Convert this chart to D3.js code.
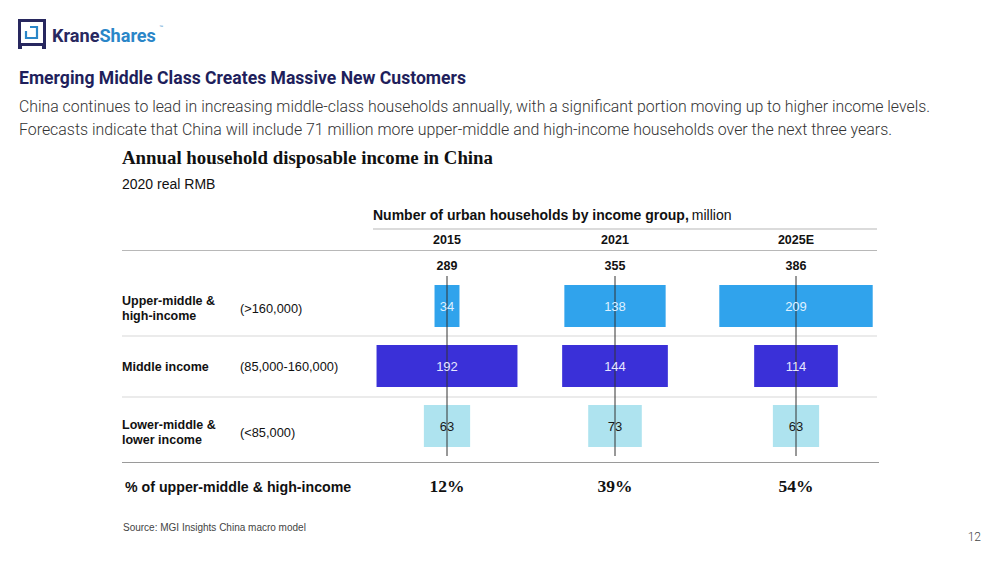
<!DOCTYPE html>
<html><head><meta charset="utf-8">
<script src="https://cdn.jsdelivr.net/npm/d3@7"></script>
<style>body{margin:0;background:#fff}svg{display:block}</style>
</head><body>
<script>
const years = ["2015", "2021", "2025E"];
const totals = [289, 355, 386];
const groups = ["upper", "middle", "lower"];
const groupLabels = [["Upper-middle &", "high-income"], ["Middle income"], ["Lower-middle &", "lower income"]];
const groupRanges = ["(>160,000)", "(85,000-160,000)", "(<85,000)"];
const upperValues = [34, 138, 209];
const middleValues = [192, 144, 114];
const lowerValues = [63, 73, 63];
const shareLabels = ["12%", "39%", "54%"];

const W = 1000, H = 563;
const svg = d3.select("body").append("svg").attr("width", W).attr("height", H);

// Logo
const logo = svg.append("g");
logo.append("rect").attr("x", 19.5).attr("y", 20.5).attr("width", 25).attr("height", 24)
  .attr("fill", "none").attr("stroke", "#28285f").attr("stroke-width", 3);
logo.append("rect").attr("x", 18).attr("y", 44).attr("width", 4).attr("height", 5).attr("fill", "#28285f");
logo.append("rect").attr("x", 42).attr("y", 44).attr("width", 4).attr("height", 5).attr("fill", "#28285f");
logo.append("path").attr("d", "M26,27 H37 V38 H26 Z").attr("fill", "none").attr("stroke", "#2a86c8").attr("stroke-width", 2.2);
logo.append("path").attr("d", "M24,25 H30 V31 H24 Z").attr("fill", "#fff");
const lt = svg.append("text").attr("x", 52).attr("y", 41.5).attr("font-family", "Roboto").attr("font-weight", 700).attr("font-size", 18);
lt.append("tspan").attr("fill", "#28285f").text("Krane");
lt.append("tspan").attr("fill", "#2a86c8").text("Shares");
const natural = lt.node().getComputedTextLength();
if (natural > 0) lt.attr("font-size", 18 * 104 / natural);
svg.append("text").attr("x", 159).attr("y", 28).attr("font-size", 4).attr("fill", "#2a86c8").attr("font-family", "Liberation Sans").text("™");

// Headline and body
svg.append("text").attr("x", 19).attr("y", 84).attr("font-family", "Roboto").attr("font-weight", 700).attr("font-size", 17.5)
  .attr("fill", "#1f1f5c").attr("textLength", 447).attr("lengthAdjust", "spacingAndGlyphs")
  .text("Emerging Middle Class Creates Massive New Customers");
const bodyLines = [
  ["China continues to lead in increasing middle-class households annually, with a significant portion moving up to higher income levels.", 112, 911],
  ["Forecasts indicate that China will include 71 million more upper-middle and high-income households over the next three years.", 135, 873]
];
bodyLines.forEach(([t, y, w]) => {
  svg.append("text").attr("x", 19).attr("y", y).attr("font-family", "Roboto").attr("font-weight", 300).attr("font-size", 16)
    .attr("fill", "#333").attr("textLength", w).attr("lengthAdjust", "spacingAndGlyphs").text(t);
});

// Chart titles
svg.append("text").attr("x", 122).attr("y", 164).attr("font-family", "Liberation Serif").attr("font-weight", 700).attr("font-size", 19.5)
  .attr("fill", "#111").attr("textLength", 371).attr("lengthAdjust", "spacingAndGlyphs")
  .text("Annual household disposable income in China");
svg.append("text").attr("x", 122).attr("y", 189).attr("font-family", "Liberation Sans").attr("font-size", 14).attr("fill", "#111").text("2020 real RMB");
const sub = svg.append("text").attr("x", 373).attr("y", 220).attr("font-family", "Liberation Sans").attr("font-size", 14).attr("fill", "#111");
sub.append("tspan").attr("font-weight", 700).text("Number of urban households by income group,");
sub.append("tspan").attr("dx", 3).text("million");

// Scales
const x = d3.scaleOrdinal().domain(years).range([447, 615, 796]);
const w = d3.scaleLinear().domain([0, 209]).range([0, 153.4]);
const y = d3.scaleBand().domain(groups).range([276, 456]).paddingInner(0.3).paddingOuter(0.15);

// Rules
const line = (x1, x2, yy, c) => svg.append("line").attr("x1", x1).attr("x2", x2).attr("y1", yy).attr("y2", yy).attr("stroke", c).attr("stroke-width", 1.2);
line(373, 877, 229, "#b8b8b8");
line(122, 877, 250.5, "#b8b8b8");
line(122, 877, y("middle") - y.step() * y.paddingInner() / 2, "#d8d8d8");
line(122, 877, y("lower") - y.step() * y.paddingInner() / 2 + 1, "#d8d8d8");
line(122, 879, 462.5, "#9a9a9a");

// Year headers and totals
years.forEach((yr, i) => {
  svg.append("text").attr("x", x(yr)).attr("y", 244).attr("text-anchor", "middle").attr("font-family", "Liberation Sans")
    .attr("font-weight", 700).attr("font-size", 12.5).attr("fill", "#111").text(yr);
  svg.append("text").attr("x", x(yr)).attr("y", 270).attr("text-anchor", "middle").attr("font-family", "Liberation Sans")
    .attr("font-weight", 700).attr("font-size", 12.5).attr("fill", "#111").text(totals[i]);
});

// Bars
const series = [
  { key: "upper", values: upperValues, fill: "#30a3ec", text: "#dff0ff" },
  { key: "middle", values: middleValues, fill: "#3a30d8", text: "#e6e6ff" },
  { key: "lower", values: lowerValues, fill: "#aee3ef", text: "#1a1a1a" }
];
series.forEach(s => {
  const g = svg.append("g");
  g.selectAll("rect").data(s.values).join("rect")
    .attr("x", (d, i) => x(years[i]) - w(d) / 2).attr("y", y(s.key))
    .attr("width", d => w(d)).attr("height", y.bandwidth()).attr("fill", s.fill);
});

// Vertical lines
years.forEach(yr => {
  svg.append("line").attr("x1", x(yr)).attr("x2", x(yr)).attr("y1", 276).attr("y2", 456).attr("stroke", "#333").attr("stroke-width", 1);
});

series.forEach(s => {
  svg.append("g").selectAll("text").data(s.values).join("text")
    .attr("x", (d, i) => x(years[i])).attr("y", y(s.key) + y.bandwidth() / 2 + 4.5)
    .attr("text-anchor", "middle").attr("font-family", "Liberation Sans").attr("font-size", 13)
    .attr("fill", s.text).text(d => d);
});

// Row labels
const labelShift = [2, 0, 6];
groups.forEach((gk, i) => {
  const cy = y(gk) + y.bandwidth() / 2 + labelShift[i];
  const lines = groupLabels[i];
  lines.forEach((l, j) => {
    svg.append("text").attr("x", 122).attr("y", cy + 4.5 + (j - (lines.length - 1) / 2) * 15.5)
      .attr("font-family", "Liberation Sans").attr("font-weight", 700).attr("font-size", 12.5).attr("fill", "#111").text(l);
  });
  svg.append("text").attr("x", 240).attr("y", cy + 4.5).attr("font-family", "Liberation Sans").attr("font-size", 12.8)
    .attr("fill", "#111").text(groupRanges[i]);
});

// Share row
svg.append("text").attr("x", 125).attr("y", 492).attr("font-family", "Liberation Sans").attr("font-weight", 700)
  .attr("font-size", 14.2).attr("fill", "#111").text("% of upper-middle & high-income");
svg.append("g").selectAll("text").data(shareLabels).join("text")
  .attr("x", (d, i) => x(years[i])).attr("y", 492).attr("text-anchor", "middle")
  .attr("font-family", "Liberation Serif").attr("font-weight", 700).attr("font-size", 17.5).attr("fill", "#111").text(d => d);

// Source & page
svg.append("text").attr("x", 123).attr("y", 531).attr("font-family", "Liberation Sans").attr("font-size", 10).attr("fill", "#444")
  .text("Source: MGI Insights China macro model");
svg.append("text").attr("x", 981).attr("y", 541).attr("text-anchor", "end").attr("font-family", "Roboto").attr("font-weight", 300)
  .attr("font-size", 12).attr("fill", "#444").text("12");
</script>
</body></html>
